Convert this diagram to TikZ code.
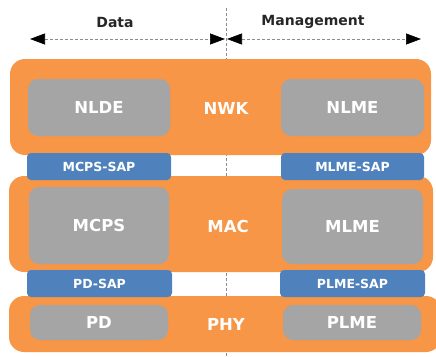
\documentclass[tikz,border=0pt]{standalone}
\usepackage{fontspec}
\setmainfont{DejaVu Sans}
\usetikzlibrary{arrows.meta}
\definecolor{layerorange}{HTML}{F79646}
\definecolor{entitygray}{HTML}{A5A5A5}
\definecolor{sapblue}{HTML}{4F81BD}
\definecolor{guidegray}{HTML}{8C8C8C}
\tikzset{
  box/.style={anchor=north west, inner sep=0pt, outer sep=0pt},
  layer/.style={box, fill=layerorange, rounded corners=15pt},
  entity/.style={box, fill=entitygray, rounded corners=10pt},
  sap/.style={box, fill=sapblue, rounded corners=4pt},
  biglabel/.style={text=white, font=\bfseries\fontsize{16.5}{18}\selectfont},
  saplabel/.style={text=white, font=\bfseries\fontsize{12.5}{14}\selectfont},
  heading/.style={font=\bfseries\fontsize{14}{16}\selectfont, text=black!85},
  span/.style={guidegray, densely dashed, line width=0.7pt,
    {Triangle[length=15pt,width=11pt,black]}-{Triangle[length=15pt,width=11pt,black]}},
}
\begin{document}
\begin{tikzpicture}[x=1pt,y=-1pt]
\useasboundingbox (0,0) rectangle (436,356);
% data / management divider
\coordinate (divtop) at (226,8);
\coordinate (divbot) at (226,356);
\draw[guidegray, densely dashed, line width=0.7pt] (divtop) -- (divbot);
% headings and extents
\node[heading] (data) at (115,22) {Data};
\node[heading] (mgmt) at (313,22) {Management};
\coordinate (dl) at (30,39);
\coordinate (dr) at (225,39);
\coordinate (ml) at (227,39);
\coordinate (mr) at (421,39);
\draw[span] (dl) -- (dr);
\draw[span] (ml) -- (mr);
% layers
\node[layer, minimum width=421pt, minimum height=96pt] (nwk) at (10,59) {};
\node[layer, minimum width=424pt, minimum height=96pt] (mac) at (9,176) {};
\node[layer, minimum width=432pt, minimum height=56pt] (phy) at (9,296) {};
\node[biglabel] (nwklbl) at (226,108) {NWK};
\node[biglabel] (maclbl) at (228,226) {MAC};
\node[biglabel] (phylbl) at (226,324) {PHY};
% entities
\node[entity, minimum width=142pt, minimum height=57pt] (nlde) at (28,79) {};
\node[biglabel] at (nlde.center) {NLDE};
\node[entity, minimum width=143pt, minimum height=57pt] (nlme) at (281,79) {};
\node[biglabel] at (nlme.center) {NLME};
\node[entity, minimum width=140pt, minimum height=77pt] (mcps) at (29,187) {};
\node[biglabel] at (mcps.center) {MCPS};
\node[entity, minimum width=141pt, minimum height=75pt] (mlme) at (282,189) {};
\node[biglabel] at (mlme.center) {MLME};
\node[entity, minimum width=138pt, minimum height=35pt] (pd) at (30,305) {};
\node[biglabel] at (pd.center) {PD};
\node[entity, minimum width=138pt, minimum height=35pt] (plme) at (283,305) {};
\node[biglabel] at (plme.center) {PLME};
% service access points
\node[sap, minimum width=144pt, minimum height=27pt] (mcpssap) at (27,153) {};
\node[saplabel] at (mcpssap.center) {MCPS-SAP};
\node[sap, minimum width=143pt, minimum height=27pt] (mlmesap) at (281,153) {};
\node[saplabel] at (mlmesap.center) {MLME-SAP};
\node[sap, minimum width=145pt, minimum height=27pt] (pdsap) at (27,270) {};
\node[saplabel] at (pdsap.center) {PD-SAP};
\node[sap, minimum width=145pt, minimum height=27pt] (plmesap) at (280,270) {};
\node[saplabel] at (plmesap.center) {PLME-SAP};
\end{tikzpicture}
\end{document}
